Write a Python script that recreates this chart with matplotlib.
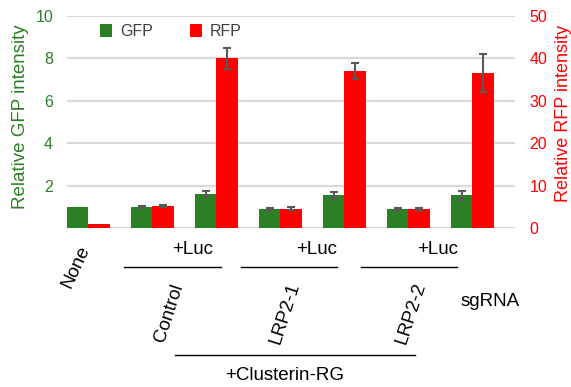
import numpy as np
import matplotlib
matplotlib.use("Agg")
from matplotlib import pyplot as plt
from matplotlib.lines import Line2D

plt.rcParams['font.family'] = ['Liberation Sans', 'DejaVu Sans']

groups = ['None', 'Control', 'Control+Luc', 'LRP2-1', 'LRP2-1+Luc', 'LRP2-2', 'LRP2-2+Luc']
gfp = [1.0, 1.0, 1.62, 0.92, 1.55, 0.92, 1.55]
gfp_err = [0, 0.05, 0.14, 0.04, 0.18, 0.04, 0.2]
rfp = [1.0, 5.25, 40.0, 4.6, 37.0, 4.6, 36.5]
rfp_err = [0, 0.3, 2.5, 0.35, 1.9, 0.25, 4.5]
left_ticks = [2, 4, 6, 8, 10]
right_ticks = [0, 10, 20, 30, 40, 50]

green = '#2b7f24'
red = '#ff0000'
errc = '#595959'

W, H = 571, 387
fig = plt.figure(figsize=(W / 100, H / 100), dpi=100)
ax = fig.add_axes([67 / W, 1 - 228.3 / H, 448 / W, 212.3 / H])
ax2 = ax.twinx()

x = np.arange(len(groups))
bw = 1 / 3
gb = ax.bar(x - bw / 2, gfp, bw, color=green, label='GFP', zorder=3)
ax.errorbar(x[1:] - bw / 2, gfp[1:], yerr=gfp_err[1:], fmt='none', ecolor=errc,
            elinewidth=1.5, capsize=3, capthick=1.5, zorder=4)
rb = ax2.bar(x + bw / 2, rfp, bw, color=red, label='RFP', zorder=3)
ax2.errorbar(x[1:] + bw / 2, rfp[1:], yerr=rfp_err[1:], fmt='none', ecolor=errc,
             elinewidth=1.5, capsize=3, capthick=1.5, zorder=4)

ax.set_xlim(-bw, 6 + 2 * bw)
ax.set_ylim(0, 10)
ax2.set_ylim(0, 50)
ax.set_yticks(left_ticks)
ax2.set_yticks(right_ticks)
ax.set_xticks([])
for t in [0] + left_ticks:
    ax.axhline(t, color='#d9d9d9', lw=1.6, zorder=1)
for a in (ax, ax2):
    for s in a.spines.values():
        s.set_visible(False)
ax.tick_params(axis='y', length=0, labelcolor=green, labelsize=11.5, pad=10)
ax2.tick_params(axis='y', length=0, labelcolor=red, labelsize=11.5, pad=10.5)
ax.set_ylabel('Relative GFP intensity', color=green, fontsize=13.5)
ax2.set_ylabel('Relative RFP intensity', color=red, fontsize=13)
ax.yaxis.set_label_coords(-0.085, 0.524)
ax2.yaxis.set_label_coords(1.089, 0.543)

ax2.legend([gb, rb], ['GFP', 'RFP'], loc='upper left', bbox_to_anchor=(0.042, 1.03),
           ncol=2, frameon=False, fontsize=11.5, handlelength=0.75, handleheight=0.8,
           handletextpad=0.5, columnspacing=2.3, labelcolor='#404040')


def fp(px, py):
    return px / W, 1 - py / H


# labels under the axis (figure pixel layout)
fs = 13.5
fig.text(*fp(76, 267), 'None', rotation=65, fontsize=fs, ha='center', va='center')
for cx in (193, 317, 438):
    fig.text(*fp(cx, 249), '+Luc', fontsize=fs, ha='center', va='center')
for x0, x1 in ((124, 221), (241, 337), (361, 457)):
    fig.add_artist(Line2D([x0 / W, x1 / W], [1 - 267 / H] * 2, color='black', lw=1))
for cx, name in ((169, 'Control'), (285, 'LRP2-1'), (411, 'LRP2-2')):
    fig.text(*fp(cx, 313), name, rotation=72, fontsize=fs, ha='center', va='center')
fig.text(*fp(490, 302), 'sgRNA', fontsize=fs, ha='center', va='center')
fig.add_artist(Line2D([175 / W, 415 / W], [1 - 355 / H] * 2, color='black', lw=1))
fig.text(*fp(285, 375), '+Clusterin-RG', fontsize=fs, ha='center', va='center')

fig.savefig('out.png', dpi=100)
